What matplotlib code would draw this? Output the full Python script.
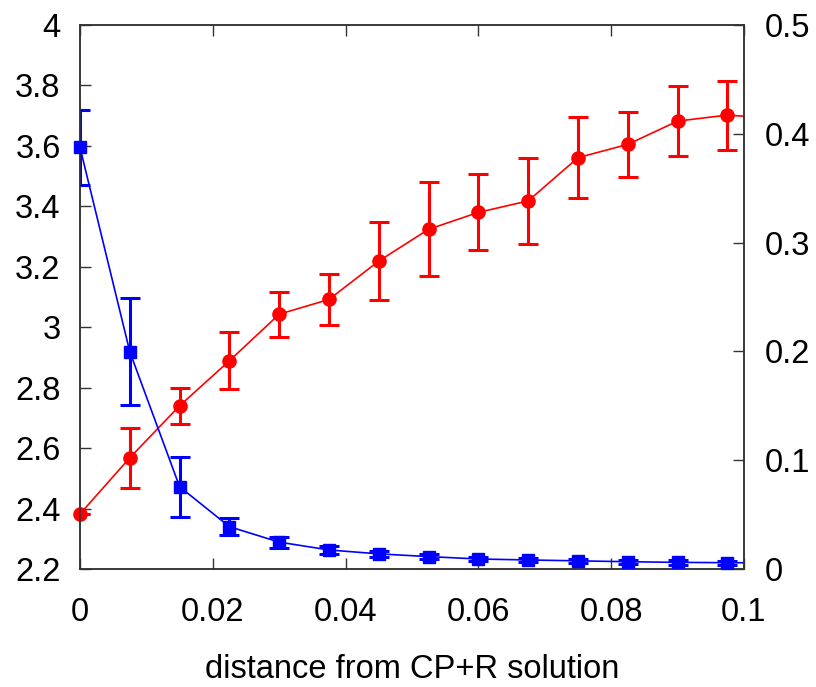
import matplotlib
matplotlib.use("Agg")
import matplotlib.pyplot as plt
from matplotlib.ticker import FixedLocator, FixedFormatter

plt.rcParams['font.family'] = ['Liberation Sans', 'DejaVu Sans']

# data (last point lies just beyond the x range; only its line segment shows)
x = [0, 0.0075, 0.015, 0.0225, 0.03, 0.0375, 0.045, 0.0525, 0.06, 0.0675,
     0.075, 0.0825, 0.09, 0.0975, 0.105]
red_y = [2.382, 2.568, 2.740, 2.889, 3.043, 3.092, 3.219, 3.324, 3.380, 3.418,
         3.561, 3.605, 3.682, 3.702, 3.690]
red_err = [0.0, 0.100, 0.060, 0.094, 0.074, 0.084, 0.130, 0.156, 0.126, 0.142,
           0.133, 0.108, 0.116, 0.114, 0.110]
blue_y = [0.3875, 0.1997, 0.0756, 0.0389, 0.0247, 0.0175, 0.0139, 0.0114, 0.0092,
          0.0083, 0.0075, 0.0067, 0.0061, 0.0058, 0.0056]
blue_err = [0.0347, 0.0494, 0.0278, 0.0078, 0.0050, 0.0035, 0.0030, 0.0025, 0.0022,
            0.0020, 0.0020, 0.0020, 0.0020, 0.0020, 0.0020]

xticks = [0, 0.02, 0.04, 0.06, 0.08, 0.1]
xticklabels = ['0', '0.02', '0.04', '0.06', '0.08', '0.1']
lticks = [2.2, 2.4, 2.6, 2.8, 3.0, 3.2, 3.4, 3.6, 3.8, 4.0]
lticklabels = ['2.2', '2.4', '2.6', '2.8', '3', '3.2', '3.4', '3.6', '3.8', '4']
rticks = [0, 0.1, 0.2, 0.3, 0.4, 0.5]
rticklabels = ['0', '0.1', '0.2', '0.3', '0.4', '0.5']
xlabel = 'distance from CP+R solution'

fig = plt.figure(figsize=(8.16, 6.87), dpi=100)
ax = fig.add_axes([80/816, 1-569/687, (744-80)/816, (569-25)/687])
ax2 = ax.twinx()

xmax = 0.1
inside = [i for i, v in enumerate(x) if v <= xmax]
xin = [x[i] for i in inside]


def draw(a, ys, errs, color, marker, ms):
    a.plot(x, ys, color=color, lw=1.2)
    a.errorbar(x, ys, yerr=errs, fmt='none', ecolor=color,
               elinewidth=2.2, capsize=7.5, capthick=2.2)
    a.plot(xin, [ys[i] for i in inside], linestyle='none', marker=marker,
           ms=ms, color=color, clip_on=False, zorder=5)


draw(ax, red_y, red_err, '#ff0000', 'o', 9.5)
draw(ax2, blue_y, blue_err, '#0000ff', 's', 9.3)

ax.set_xlim(0, xmax)
ax.set_ylim(2.2, 4.0)
ax2.set_ylim(0, 0.5)

ax.xaxis.set_major_locator(FixedLocator(xticks))
ax.xaxis.set_major_formatter(FixedFormatter(xticklabels))
ax.yaxis.set_major_locator(FixedLocator(lticks))
ax.yaxis.set_major_formatter(FixedFormatter(lticklabels))
ax2.yaxis.set_major_locator(FixedLocator(rticks))
ax2.yaxis.set_major_formatter(FixedFormatter(rticklabels))

spine_color = '#333333'
for a in (ax, ax2):
    for s in a.spines.values():
        s.set_color(spine_color)
        s.set_linewidth(1.1)

ax.tick_params(axis='x', direction='in', length=8, width=1, color=spine_color,
               top=True, bottom=True, labelsize=23.5, pad=20)
ax.tick_params(axis='y', direction='in', length=8, width=1, color=spine_color,
               left=True, right=False, labelsize=23.5, pad=14)
ax2.tick_params(axis='y', direction='in', length=8, width=1, color=spine_color,
                right=True, left=False, labelsize=23.5, pad=15)

ax.set_xlabel(xlabel, fontsize=23.5, labelpad=19)

fig.savefig('out.png', dpi=100)
